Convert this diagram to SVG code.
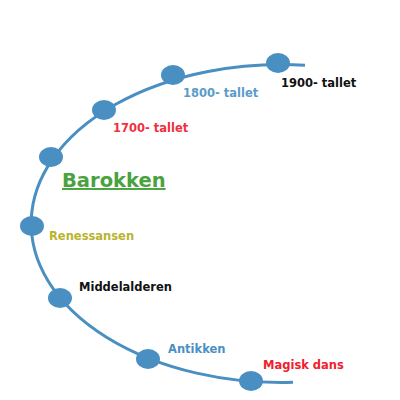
<svg xmlns="http://www.w3.org/2000/svg" width="400" height="400" viewBox="0 0 400 400">
<style>
.lbl{font-family:"DejaVu Sans","Liberation Sans",sans-serif;font-weight:bold;font-size:11.5px}
.dot{fill:#4a8fc2}
</style>
<rect width="400" height="400" fill="#ffffff"/>
<g id="connectors">
<path d="M 305 65.2 A 250 159 0 1 0 293 382.3" fill="none" stroke="#4a8fc2" stroke-width="3"/>
</g>
<g id="magisk"><ellipse class="dot" cx="251" cy="381" rx="12" ry="10"/><text class="lbl" x="263" y="369" fill="#f0202e">Magisk dans</text></g>
<g id="antikken"><ellipse class="dot" cx="148" cy="359" rx="12" ry="10"/><text class="lbl" x="168" y="353" fill="#4a8fc2">Antikken</text></g>
<g id="middelalderen"><ellipse class="dot" cx="60" cy="298" rx="12" ry="10"/><text class="lbl" x="79" y="291" fill="#111111">Middelalderen</text></g>
<g id="renessansen"><ellipse class="dot" cx="32" cy="226" rx="12" ry="10"/><text class="lbl" x="49" y="240" fill="#b8b42e">Renessansen</text></g>
<g id="barokken"><ellipse class="dot" cx="51" cy="157" rx="12" ry="10"/><text x="62" y="187" fill="#4aa23e" font-family="DejaVu Sans, Liberation Sans, sans-serif" font-weight="bold" font-size="19.5" text-decoration="underline">Barokken</text></g>
<g id="t1700"><ellipse class="dot" cx="104" cy="110" rx="12" ry="10"/><text class="lbl" x="113" y="132" fill="#f0303e">1700- tallet</text></g>
<g id="t1800"><ellipse class="dot" cx="173" cy="75" rx="12" ry="10"/><text class="lbl" x="183" y="97" fill="#5a9cc8">1800- tallet</text></g>
<g id="t1900"><ellipse class="dot" cx="278" cy="63" rx="12" ry="10"/><text class="lbl" x="281" y="87" fill="#111111">1900- tallet</text></g>
</svg>
